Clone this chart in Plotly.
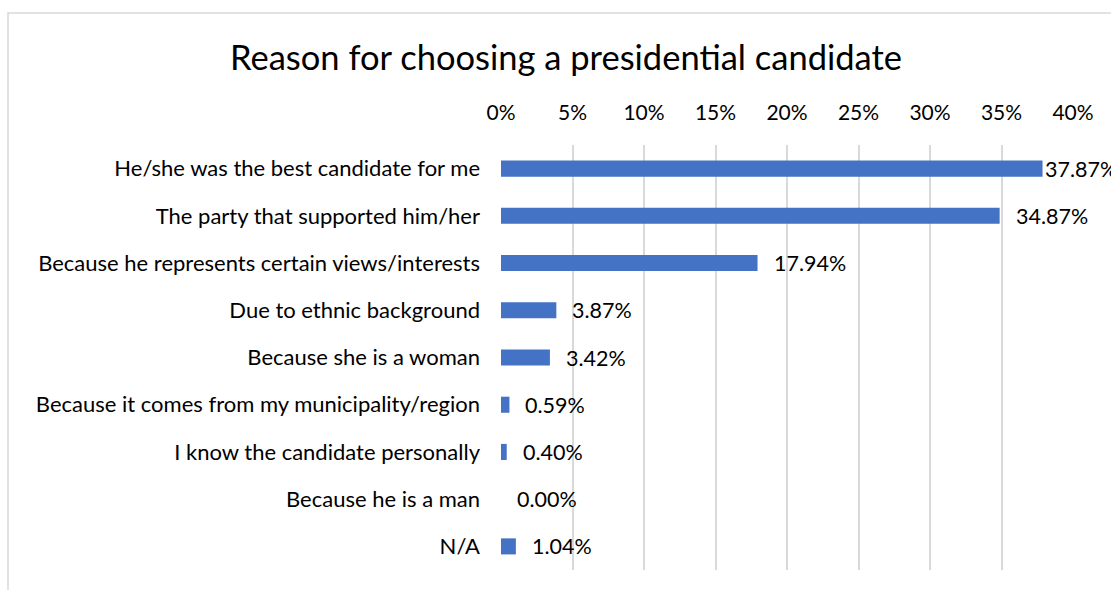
import plotly.graph_objects as go

# Survey responses: reason for choosing a presidential candidate
reasons = [
    "He/she was the best candidate for me",
    "The party that supported him/her",
    "Because he represents certain views/interests",
    "Due to ethnic background",
    "Because she is a woman",
    "Because it comes from my municipality/region",
    "I know the candidate personally",
    "Because he is a man",
    "N/A",
]
shares = [0.3787, 0.3487, 0.1794, 0.0387, 0.0342, 0.0059, 0.0040, 0.0000, 0.0104]
tick_vals = [0, 0.05, 0.10, 0.15, 0.20, 0.25, 0.30, 0.35, 0.40]
tick_text = ["0%", "5%", "10%", "15%", "20%", "25%", "30%", "35%", "40%"]

FONT = "Lato"
BAR_COLOR = "#4472C4"
AXIS_MAX = 0.40

fig = go.Figure()
fig.add_trace(go.Bar(
    x=shares,
    y=reasons,
    orientation="h",
    marker=dict(color=BAR_COLOR, line=dict(width=0)),
    width=0.34,
    hoverinfo="x+y",
))

# Value labels just past the end of each bar; labels near the right edge are pulled in
for r, v in zip(reasons, shares):
    near_edge = v > AXIS_MAX * 0.93
    fig.add_annotation(
        x=v, y=r, xref="x", yref="y",
        text=f"{v * 100:.2f}%",
        showarrow=False,
        xanchor="left",
        xshift=0 if near_edge else 14,
        font=dict(family=FONT, size=21.5, color="#000000"),
    )

fig.update_layout(
    width=1111,
    height=590,
    paper_bgcolor="white",
    plot_bgcolor="white",
    margin=dict(l=501, r=38, t=145, b=20),
    showlegend=False,
    bargap=0.66,
    title=dict(
        text="Reason for choosing a presidential candidate",
        x=566 / 1111, xref="container", xanchor="center",
        y=1 - 58 / 590, yref="container", yanchor="middle",
        font=dict(family=FONT, size=34.5, color="#000000"),
    ),
    xaxis=dict(
        side="top",
        range=[0, AXIS_MAX],
        tickvals=tick_vals,
        ticktext=tick_text,
        showgrid=True,
        gridcolor="#D9D9D9",
        gridwidth=1.5,
        zeroline=False,
        showline=False,
        ticks="",
        ticklen=0,
        ticklabelstandoff=20,
        tickfont=dict(family=FONT, size=21, color="#000000"),
        fixedrange=True,
    ),
    yaxis=dict(
        autorange="reversed",
        showgrid=False,
        zeroline=False,
        showline=False,
        ticks="",
        ticklabelstandoff=20,
        tickfont=dict(family=FONT, size=22, color="#000000"),
        fixedrange=True,
    ),
)

# Light chart-area frame (top and left edges visible)
fig.add_shape(
    type="rect", xref="paper", yref="paper",
    x0=-493 / 572, x1=1.2, y0=-0.2, y1=1 + 132 / 425,
    line=dict(color="#D9D9D9", width=1.5),
    fillcolor="rgba(0,0,0,0)",
    layer="below",
)

fig.write_html("out.html")
